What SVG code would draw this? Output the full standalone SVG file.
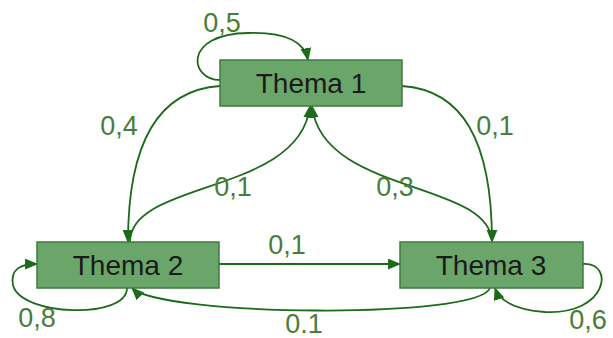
<svg xmlns="http://www.w3.org/2000/svg" width="613" height="338" viewBox="0 0 613 338">
<defs>
<marker id="ah" viewBox="0 0 12 10" refX="11" refY="5" markerWidth="13" markerHeight="11" markerUnits="userSpaceOnUse" orient="auto">
<path d="M0,0 L12,5 L0,10 Z" fill="#1b6b1b"/>
</marker>
<style>
.box{fill:#6aa66a;stroke:#3f7a3f;stroke-width:1.5}
.nt{font-family:"Liberation Sans",Arial,sans-serif;font-size:28px;fill:#1a1a1a;text-anchor:middle}
.e{fill:none;stroke:#1b6b1b;stroke-width:1.8;marker-end:url(#ah)}
.lb{font-family:"Liberation Sans",Arial,sans-serif;font-size:27px;fill:#4a7d3a;text-anchor:middle}
</style>
</defs>
<g id="connectors">
<path class="e" d="M220,80 C190,80 182,34 248,33 C290,32 305,44 308,60"/>
<path class="e" d="M220,86 C160,90 128,140 128,242"/>
<path class="e" d="M402,86 C462,90 492,140 492,242"/>
<path class="e" d="M130,242 C130,180 300,195 310,106"/>
<path class="e" d="M492,242 C490,180 322,195 312,106"/>
<path class="e" d="M219,264 L400,264"/>
<path class="e" d="M490,288 C478,320 160,316 132,288"/>
<path class="e" d="M127,288 C127,320 20,316 13,285 C10,268 22,264 37,264"/>
<path class="e" d="M583,264 C615,262 608,315 545,312 C518,310 500,302 495,288"/>
</g>
<g id="thema1">
<rect class="box" x="220" y="60" width="182" height="46"/>
<text class="nt" x="311" y="93">Thema 1</text>
</g>
<g id="thema2">
<rect class="box" x="37" y="242" width="182" height="46"/>
<text class="nt" x="128" y="275">Thema 2</text>
</g>
<g id="thema3">
<rect class="box" x="400" y="242" width="183" height="46"/>
<text class="nt" x="491" y="275">Thema 3</text>
</g>
<g id="labels">
<text class="lb" x="222" y="32">0,5</text>
<text class="lb" x="119" y="135">0,4</text>
<text class="lb" x="495" y="135">0,1</text>
<text class="lb" x="233" y="196">0,1</text>
<text class="lb" x="395" y="196">0,3</text>
<text class="lb" x="287" y="254">0,1</text>
<text class="lb" x="304" y="333">0.1</text>
<text class="lb" x="37" y="327">0,8</text>
<text class="lb" x="588" y="329">0,6</text>
</g>
</svg>
